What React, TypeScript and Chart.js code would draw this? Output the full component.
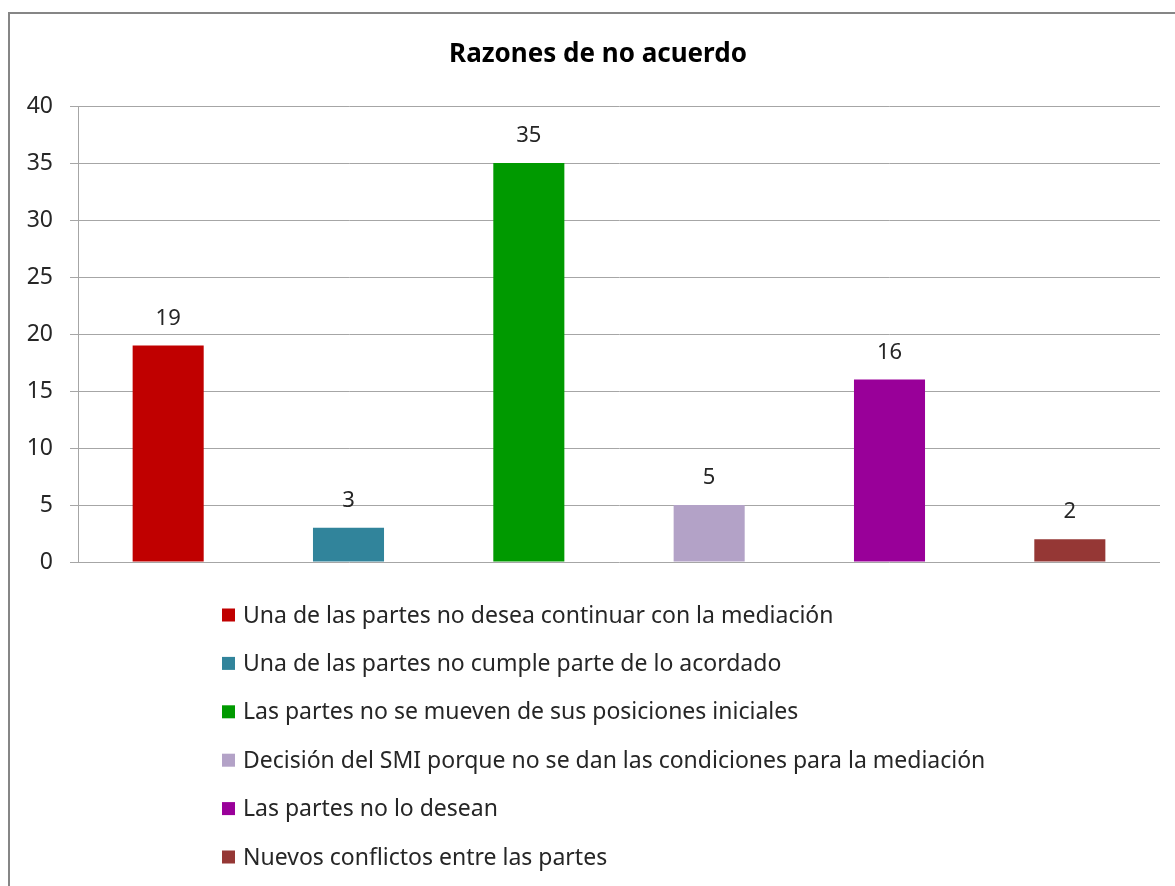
import React, { useEffect, useRef } from "react";
import { Chart, registerables } from "chart.js";

Chart.register(...registerables);

const title = "Razones de no acuerdo";
const categories = [
  "Una de las partes no desea continuar con la mediación",
  "Una de las partes no cumple parte de lo acordado",
  "Las partes no se mueven de sus posiciones iniciales",
  "Decisión del SMI porque no se dan las condiciones para la mediación",
  "Las partes no lo desean",
  "Nuevos conflictos entre las partes",
];
const values = [19, 3, 35, 5, 16, 2];
const colors = ["#C00000", "#31849B", "#009A00", "#B3A2C7", "#990099", "#953735"];
const yMin = 0;
const yMax = 40;
const yStep = 5;

const FONT = "'Noto Sans', 'DejaVu Sans', sans-serif";
const TEXT = "#262626";
const GRID = "#A6A6A6";

const W = 1175;
const H = 886;

const extrasPlugin = {
  id: "extras",
  afterDraw(chart: any) {
    const ctx = chart.ctx;
    const area = chart.chartArea;
    ctx.save();
    // title
    ctx.fillStyle = "#000";
    ctx.font = `bold 26px ${FONT}`;
    ctx.textAlign = "center";
    ctx.textBaseline = "middle";
    ctx.fillText(title, 598, 55);

    // value labels
    const meta = chart.getDatasetMeta(0);
    ctx.font = `22px ${FONT}`;
    ctx.fillStyle = TEXT;
    meta.data.forEach((el: any, i: number) => {
      ctx.fillText(String(values[i]), el.x, el.y - 27);
    });

    // legend
    const boxX = 222;
    const textX = 243;
    const firstY = area.bottom + 53;
    const step = 48.4;
    ctx.textAlign = "left";
    ctx.font = `23px ${FONT}`;
    categories.forEach((c, i) => {
      const cy = firstY + i * step;
      ctx.fillStyle = colors[i];
      ctx.fillRect(boxX, cy - 6.5, 13, 13);
      ctx.fillStyle = TEXT;
      ctx.fillText(c, textX, cy + 1);
    });
    ctx.restore();
  },
};

export default function App() {
  const ref = useRef<HTMLCanvasElement | null>(null);

  useEffect(() => {
    if (!ref.current) return;
    const chart = new Chart(ref.current, {
      type: "bar",
      data: {
        labels: categories,
        datasets: [
          {
            data: values,
            backgroundColor: colors,
            borderWidth: 0,
            barPercentage: 0.394,
            categoryPercentage: 1,
          },
        ],
      },
      options: {
        responsive: false,
        animation: false,
        devicePixelRatio: 1,
        layout: { padding: { top: 106, right: 15, bottom: 886 - 562, left: 0 } },
        plugins: {
          legend: { display: false },
          title: { display: false },
          tooltip: { enabled: false },
        },
        scales: {
          x: {
            display: true,
            grid: { display: false, drawTicks: false },
            border: { display: false },
            ticks: { display: false },
          },
          y: {
            min: yMin,
            max: yMax,
            ticks: {
              stepSize: yStep,
              color: TEXT,
              font: { family: FONT, size: 23 },
              padding: 17,
            },
            grid: {
              color: GRID,
              lineWidth: 1,
              tickLength: 8,
              drawTicks: true,
            },
            border: { display: true, color: GRID, width: 1 },
            afterFit(scale: any) {
              scale.width = 78;
            },
          },
        },
      },
      plugins: [extrasPlugin],
    });
    return () => chart.destroy();
  }, []);

  return (
    <div
      style={{
        position: "fixed",
        left: 0,
        top: 0,
        width: W,
        height: H,
        overflow: "hidden",
        background: "#fff",
      }}
    >
      <div
        style={{
          position: "absolute",
          left: 8,
          top: 12,
          width: 1300,
          height: 1000,
          borderLeft: "2px solid #868686",
          borderTop: "2px solid #868686",
        }}
      />
      <canvas
        ref={ref}
        width={W}
        height={H}
        style={{ position: "absolute", left: 0, top: 0, width: W, height: H }}
      />
    </div>
  );
}
